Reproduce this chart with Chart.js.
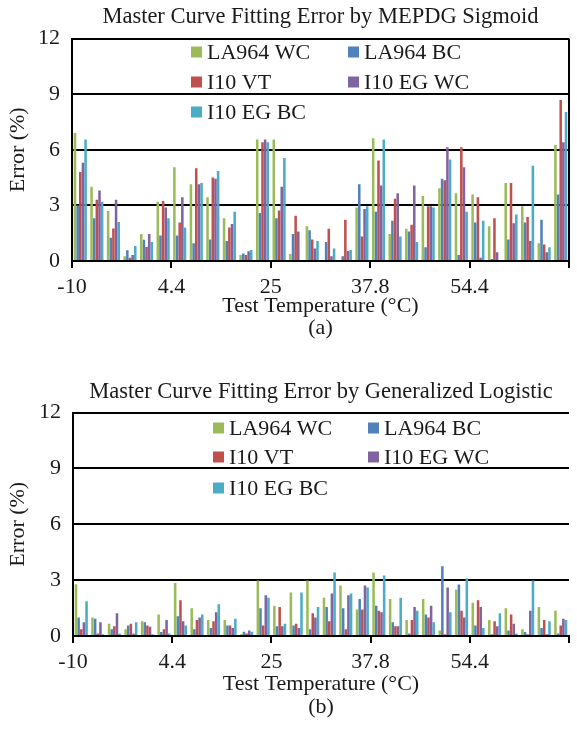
<!DOCTYPE html>
<html>
<head>
<meta charset="utf-8">
<title>Master Curve Fitting Error</title>
<script src="https://cdn.jsdelivr.net/npm/chart.js@4.4.0/dist/chart.umd.min.js"></script>
<style>
    body { margin: 0; background: #fff; }
    canvas { position: absolute; left: 0; }
    #chartA { top: 0; }
    #chartB { top: 369px; }
</style>
</head>
<body>
<canvas id="chartA" width="577" height="341"></canvas>
<canvas id="chartB" width="577" height="351"></canvas>
<script>
// test temperatures (axis labels), 6 fitted cases per temperature
var tempLabels = ['-10', '4.4', '25', '37.8', '54.4'];
var groupsPerTemp = 6;
var yTicks = [0, 3, 6, 9, 12];

var seriesNames = ['LA964 WC', 'LA964 BC', 'I10 VT', 'I10 EG WC', 'I10 EG BC'];
var seriesColors = ['#9bbb59', '#4f81bd', '#c0504d', '#8064a2', '#4bacc6'];

// (a) MEPDG Sigmoid
var sigLA964WC = [6.9, 4.0, 2.7, 0.25, 1.45, 3.2, 5.06, 4.14, 3.44, 2.3, 0.33, 6.55, 6.55, 0.38, 1.88, 0.05, 0.05, 2.88, 6.62, 1.45, 1.74, 3.51, 3.92, 3.65, 3.58, 1.88, 4.21, 2.95, 0.96, 6.26];
var sigLA964BC = [3.0, 2.3, 1.25, 0.58, 1.14, 1.37, 1.37, 0.96, 1.16, 1.08, 0.4, 2.59, 2.3, 1.45, 1.66, 1.03, 0.25, 4.14, 2.66, 2.17, 1.59, 0.74, 4.43, 0.33, 2.08, 0.11, 1.16, 2.08, 2.22, 3.58];
var sigI10VT = [4.8, 3.3, 1.75, 0.18, 0.76, 3.24, 2.08, 5.0, 4.5, 1.81, 0.33, 6.4, 2.73, 2.44, 1.16, 1.74, 2.22, 1.32, 5.42, 3.36, 1.95, 2.95, 4.36, 6.13, 3.44, 2.3, 4.21, 2.37, 0.89, 8.68];
var sigI10EGWC = [5.3, 3.8, 3.3, 0.33, 1.45, 2.88, 3.44, 4.14, 4.43, 2.0, 0.52, 6.55, 4.0, 1.59, 0.67, 0.25, 0.54, 2.8, 4.07, 3.65, 4.07, 2.95, 6.13, 5.06, 0.18, 0.47, 2.03, 1.08, 0.47, 6.4];
var sigI10EGBC = [6.55, 3.2, 2.1, 0.81, 1.03, 2.31, 1.81, 4.21, 4.86, 2.66, 0.6, 6.4, 5.55, 0.05, 1.08, 0.67, 0.6, 2.95, 6.55, 1.32, 1.03, 2.88, 5.48, 2.66, 2.17, 0.05, 2.51, 5.14, 0.74, 8.03];

// (b) Generalized Logistic
var glLA964WC = [2.78, 1.0, 0.66, 0.36, 0.79, 1.15, 2.84, 1.49, 0.86, 0.86, 0.09, 2.98, 1.63, 2.33, 2.98, 2.06, 2.71, 1.42, 3.41, 1.99, 0.86, 1.99, 0.29, 2.5, 1.78, 0.86, 1.49, 0.36, 1.56, 1.35];
var glLA964BC = [1.0, 0.93, 0.36, 0.57, 0.74, 0.22, 1.06, 0.36, 0.43, 0.57, 0.23, 1.49, 0.52, 0.57, 0.36, 1.56, 1.49, 1.99, 1.63, 0.74, 0.14, 1.15, 3.75, 2.77, 0.57, 0.09, 0.29, 0.22, 0.43, 0.14];
var glI10VT = [0.36, 0.14, 0.52, 0.66, 0.57, 0.36, 1.92, 0.86, 0.79, 0.57, 0.14, 0.57, 1.56, 0.66, 1.22, 0.79, 0.36, 1.42, 1.35, 0.52, 0.86, 1.0, 0.09, 1.35, 1.92, 0.79, 1.15, 0.09, 0.86, 0.57];
var glI10EGWC = [0.74, 0.74, 1.22, 0.14, 0.5, 0.86, 0.79, 1.0, 1.27, 0.43, 0.29, 2.19, 0.52, 0.43, 1.0, 2.28, 2.19, 2.71, 1.27, 0.52, 1.56, 1.63, 2.6, 1.0, 1.56, 0.52, 0.66, 1.35, 0.09, 0.93];
var glI10EGBC = [1.87, 0.09, 0.14, 0.74, 0.09, 0.14, 0.57, 1.15, 1.7, 0.93, 0.23, 2.06, 0.66, 2.33, 1.56, 3.41, 2.28, 2.6, 3.25, 2.06, 1.35, 0.74, 1.27, 3.1, 0.43, 1.22, 0.14, 2.98, 0.79, 0.86];

var FONT = "'Liberation Serif', 'Times New Roman', serif";
var INK = '#1a1a1a';

// one category per fitted case, e.g. "-10 #1"
var categories = [];
for (var t = 0; t < tempLabels.length; t++) {
    for (var g = 1; g <= groupsPerTemp; g++) {
        categories.push(tempLabels[t] + ' #' + g);
    }
}

// legend drawn inside the plot area, two columns
var innerLegend = {
    id: 'innerLegend',
    afterDraw: function (chart, args, opts) {
        var ctx = chart.ctx;
        ctx.save();
        ctx.font = opts.size + 'px ' + FONT;
        ctx.textBaseline = 'middle';
        ctx.textAlign = 'left';
        chart.data.datasets.forEach(function (ds, i) {
            var x = opts.cols[i % 2];
            var y = opts.rows[Math.floor(i / 2)];
            ctx.fillStyle = ds.backgroundColor;
            ctx.fillRect(x, y - opts.box / 2, opts.box, opts.box);
            ctx.fillStyle = INK;
            ctx.fillText(ds.label, x + opts.box + 5, y + 1);
        });
        ctx.restore();
    }
};

var rightFrame = {
    id: 'rightFrame',
    afterDraw: function (chart, args, opts) {
        if (!opts.show) return;
        var a = chart.chartArea, ctx = chart.ctx;
        ctx.save();
        ctx.strokeStyle = '#000';
        ctx.lineWidth = 2;
        ctx.beginPath();
        ctx.moveTo(a.right, a.top);
        ctx.lineTo(a.right, a.bottom);
        ctx.stroke();
        ctx.restore();
    }
};

function buildChart(canvasId, p) {
    var datasets = p.series.map(function (values, i) {
        return {
            label: seriesNames[i],
            data: values,
            backgroundColor: seriesColors[i],
            borderWidth: 0,
            categoryPercentage: 0.8,
            barPercentage: 0.96,
            xAxisID: 'x'
        };
    });
    var font = {family: FONT, size: 22, lineHeight: 1};
    var headFont = {family: FONT, size: 22.5, weight: 'normal', lineHeight: 1};
    return new Chart(document.getElementById(canvasId), {
        type: 'bar',
        data: {labels: categories, datasets: datasets},
        plugins: [innerLegend, rightFrame],
        options: {
            responsive: false,
            animation: false,
            devicePixelRatio: 1,
            layout: {padding: {left: 0, right: 1, top: 0, bottom: 0}},
            plugins: {
                legend: {display: false},
                tooltip: {enabled: false},
                title: {
                    display: true, text: p.title, color: INK, fullSize: false,
                    font: headFont, padding: p.titlePad
                },
                subtitle: {
                    display: true, position: 'bottom', text: p.tag, color: INK, fullSize: false,
                    font: {family: FONT, size: 22, weight: 'normal', lineHeight: 1},
                    padding: p.tagPad
                },
                innerLegend: p.legend,
                rightFrame: {show: p.frame}
            },
            scales: {
                x: {type: 'category', display: false, offset: true},
                xt: {
                    type: 'linear', position: 'bottom', offset: false,
                    min: 0, max: tempLabels.length * groupsPerTemp,
                    ticks: {
                        stepSize: groupsPerTemp, autoSkip: false, maxRotation: 0,
                        padding: 8, color: INK, font: font,
                        callback: function (v) {
                            return tempLabels[v / groupsPerTemp] || '';
                        }
                    },
                    grid: {offset: false, drawOnChartArea: false, tickLength: 7, color: '#000', lineWidth: 2},
                    border: {color: '#000', width: 2},
                    title: {
                        display: true, text: 'Test Temperature (°C)', color: INK,
                        font: font, padding: {top: p.xTitleTop, bottom: 0}
                    }
                },
                y: {
                    min: yTicks[0], max: yTicks[yTicks.length - 1],
                    afterBuildTicks: function (scale) {
                        scale.ticks = yTicks.map(function (v) { return {value: v}; });
                    },
                    afterFit: function (scale) { scale.width = p.leftWidth; },
                    ticks: {padding: 12, color: INK, font: font},
                    grid: {color: '#000', lineWidth: 2, drawTicks: false},
                    border: {color: '#000', width: 2},
                    title: {
                        display: true, text: 'Error (%)', color: INK,
                        font: font, padding: {top: 7, bottom: 0}
                    }
                }
            }
        }
    });
}

buildChart('chartA', {
    title: 'Master Curve Fitting Error by MEPDG Sigmoid',
    tag: '(a)',
    series: [sigLA964WC, sigLA964BC, sigI10VT, sigI10EGWC, sigI10EGBC],
    titlePad: {top: 6, bottom: 10},
    tagPad: {top: 0, bottom: 2},
    xTitleTop: -11,
    leftWidth: 72,
    frame: true,
    legend: {size: 22, box: 11, cols: [191, 348], rows: [52, 82, 112]}
});

buildChart('chartB', {
    title: 'Master Curve Fitting Error by Generalized Logistic',
    tag: '(b)',
    series: [glLA964WC, glLA964BC, glI10VT, glI10EGWC, glI10EGBC],
    titlePad: {top: 12, bottom: 9},
    tagPad: {top: 1, bottom: 2},
    xTitleTop: -8,
    leftWidth: 73,
    frame: false,
    legend: {size: 22, box: 11, cols: [213, 368], rows: [59, 88, 119]}
});
</script>
</body>
</html>
